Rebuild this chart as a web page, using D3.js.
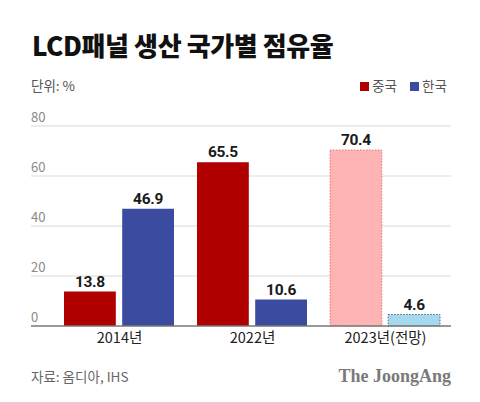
<!DOCTYPE html>
<html><head><meta charset="utf-8">
<script src="https://cdn.jsdelivr.net/npm/d3@7"></script>
<style>body{margin:0;background:#fff;}svg{display:block;font-family:"Noto Sans CJK KR","Noto Sans",sans-serif;}</style>
</head><body><svg id="c" width="480" height="402"></svg>
<script>
const categories = ["2014년", "2022년", "2023년(전망)"];
const seriesNames = ["중국", "한국"];
const china = [13.8, 65.5, 70.4];
const korea = [46.9, 10.6, 4.6];
const yTicks = [0, 20, 40, 60, 80];
const forecast = [false, false, true];

const svg = d3.select("#c");
const x = d3.scalePoint().domain(categories).range([119, 385]);
const inner = d3.scaleBand().domain(seriesNames).range([-55, 55]).paddingInner(0.11);
const y = d3.scaleLinear().domain([0, 80]).range([326, 126]);
const L = 31, R = 451;

svg.append("text").attr("x", 32).attr("y", 56).text("LCD패널 생산 국가별 점유율")
  .attr("font-size", 26).attr("font-weight", 900).attr("fill", "#111").attr("letter-spacing", -0.4);
svg.append("text").attr("x", 31).attr("y", 91).text("단위: %").attr("font-size", 13.5).attr("fill", "#555");

// legend
const colors = {"중국": "#b00000", "한국": "#3a4ba0"};
const leg = [{n: "중국", x: 360}, {n: "한국", x: 410}];
leg.forEach(d => {
  svg.append("rect").attr("x", d.x).attr("y", 82).attr("width", 9).attr("height", 9).attr("fill", colors[d.n]);
  svg.append("text").attr("x", d.x + 12).attr("y", 91).text(d.n).attr("font-size", 13.5).attr("fill", "#555");
});

// grid
yTicks.forEach(t => {
  if (t > 0) svg.append("line").attr("x1", L).attr("x2", R).attr("y1", y(t)).attr("y2", y(t)).attr("stroke", "#d9d9d9").attr("stroke-width", 1);
  svg.append("text").attr("x", 31).attr("y", y(t) - 4).text(t).attr("font-size", 13).attr("fill", "#8a8a8a");
});

const data = [];
categories.forEach((c, i) => {
  data.push({c, s: "중국", v: china[i], f: forecast[i]});
  data.push({c, s: "한국", v: korea[i], f: forecast[i]});
});
const fillOf = d => d.f ? (d.s === "중국" ? "#ffb4b4" : "#a7d9ee") : colors[d.s];
const g = svg.append("g");
g.selectAll("rect").data(data).join("rect")
  .attr("x", d => x(d.c) + inner(d.s))
  .attr("width", inner.bandwidth())
  .attr("y", d => y(d.v))
  .attr("height", d => y(0) - y(d.v))
  .attr("fill", fillOf)
  .attr("stroke", d => d.f ? (d.s === "중국" ? "#e07a7a" : "#4a6a80") : "none")
  .attr("stroke-width", d => d.f ? 1 : 0)
  .attr("stroke-dasharray", d => d.f ? "1.5,1.5" : null);
g.selectAll("text").data(data).join("text")
  .attr("x", d => x(d.c) + inner(d.s) + inner.bandwidth() / 2)
  .attr("y", d => y(d.v) - 5)
  .attr("text-anchor", "middle").attr("font-size", 15.5).attr("font-weight", 700)
  .attr("fill", "#1a1a1a").attr("font-family", "Roboto, 'Noto Sans', sans-serif").attr("letter-spacing", -0.3)
  .text(d => d.v.toFixed(1));

svg.append("line").attr("x1", L).attr("x2", R).attr("y1", y(0)).attr("y2", y(0)).attr("stroke", "#777").attr("stroke-width", 1.5);

const xa = svg.append("g").attr("transform", `translate(0,${y(0)})`).call(d3.axisBottom(x).tickSize(0).tickPadding(7));
xa.select(".domain").remove();
xa.selectAll("text").attr("font-size", 14.5).attr("fill", "#222").attr("font-family", "'Noto Sans CJK KR',sans-serif");

svg.append("text").attr("x", 31).attr("y", 382).text("자료: 옴디아, IHS").attr("font-size", 13.5).attr("fill", "#666");
svg.append("text").attr("x", 451).attr("y", 382).attr("text-anchor", "end").text("The JoongAng")
  .attr("font-size", 18).attr("font-weight", 700).attr("fill", "#7a7a7a").attr("font-family", "'Liberation Serif','DejaVu Serif',serif");
</script></body></html>
